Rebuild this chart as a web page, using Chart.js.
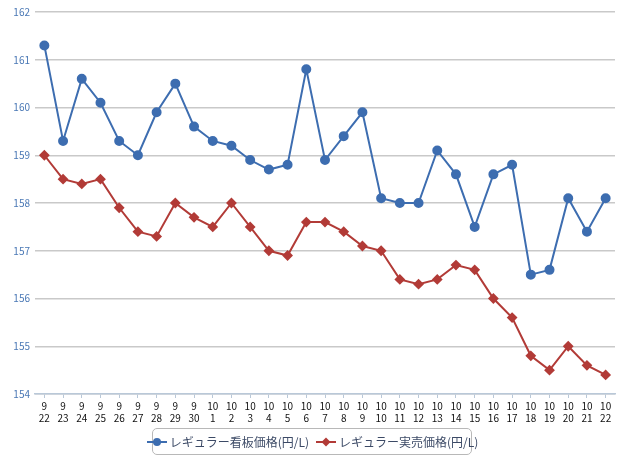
<!DOCTYPE html>
<html><head><meta charset="utf-8">
<script src="https://cdn.jsdelivr.net/npm/chart.js@4/dist/chart.umd.min.js"></script>
<style>
html,body{margin:0;padding:0;background:#fff;}
#wrap{position:relative;width:640px;height:463px;}
#legend{position:absolute;left:152px;top:428px;width:320px;height:27px;border:1px solid #b8b8b8;border-radius:5px;box-sizing:border-box;
 font-family:"Noto Sans CJK JP",sans-serif;font-size:12px;color:#3c4a66;display:flex;align-items:center;justify-content:center;gap:6px;white-space:nowrap;letter-spacing:0;}
.it{display:flex;align-items:center;gap:2px;}
.it canvas{display:block;}
</style></head>
<body><div id="wrap"><canvas id="c" width="640" height="463"></canvas>
<div id="legend"></div></div>
<script>
const months = ['9','9','9','9','9','9','9','9','9','10','10','10','10','10','10','10','10','10','10','10','10','10','10','10','10','10','10','10','10','10','10'];
const days = ['22','23','24','25','26','27','28','29','30','1','2','3','4','5','6','7','8','9','10','11','12','13','14','15','16','17','18','19','20','21','22'];
const seriesNames = ['レギュラー看板価格(円/L)','レギュラー実売価格(円/L)'];
const signboard = [161.3,159.3,160.6,160.1,159.3,159.0,159.9,160.5,159.6,159.3,159.2,158.9,158.7,158.8,160.8,158.9,159.4,159.9,158.1,158.0,158.0,159.1,158.6,157.5,158.6,158.8,156.5,156.6,158.1,157.4,158.1];
const actual = [159.0,158.5,158.4,158.5,157.9,157.4,157.3,158.0,157.7,157.5,158.0,157.5,157.0,156.9,157.6,157.6,157.4,157.1,157.0,156.4,156.3,156.4,156.7,156.6,156.0,155.6,154.8,154.5,155.0,154.6,154.4];
const yMin = 154, yMax = 162;

const labels = months.map((m,i)=>[m, days[i]]);
const blue = '#3d6db0', red = '#b23b37';

const chart = new Chart(document.getElementById('c'), {
  type:'line',
  data:{labels, datasets:[
    {label:seriesNames[0], data:signboard, borderColor:blue, backgroundColor:blue, borderWidth:2, pointStyle:'circle', pointRadius:4, pointHoverRadius:4, tension:0},
    {label:seriesNames[1], data:actual, borderColor:red, backgroundColor:red, borderWidth:2, pointStyle:'rectRot', pointRadius:4, pointHoverRadius:4, tension:0}
  ]},
  options:{
    responsive:false, animation:false,
    layout:{padding:{top:12,right:25,bottom:40,left:0}},
    plugins:{legend:{display:false}, tooltip:{enabled:false}},
    scales:{
      x:{offset:true,
        grid:{display:true, drawOnChartArea:false, color:'#b9c8d8', tickLength:4},
        border:{display:true, color:'#b9c8d8', width:1.5},
        ticks:{color:'#111', font:{family:'"Noto Sans CJK JP", sans-serif', size:10}, maxRotation:0, autoSkip:false, padding:2},
        afterFit:s=>{s.height=29;}
      },
      y:{min:yMin, max:yMax,
        grid:{color:'#c9c9c9', lineWidth:1.5, drawTicks:false},
        border:{display:false},
        ticks:{stepSize:1, color:'#4a78b5', font:{family:'"Noto Sans CJK JP", sans-serif', size:10}, padding:5},
        afterFit:s=>{s.width=35;}
      }
    }
  }
});

// HTML legend
const leg = document.getElementById('legend');
chart.data.datasets.forEach(ds=>{
  const it = document.createElement('div'); it.className='it';
  const cv = document.createElement('canvas'); cv.width=22; cv.height=12;
  const g = cv.getContext('2d');
  g.strokeStyle = ds.borderColor; g.fillStyle = ds.borderColor; g.lineWidth=2;
  g.beginPath(); g.moveTo(1,6); g.lineTo(21,6); g.stroke();
  g.beginPath();
  if (ds.pointStyle==='circle') { g.arc(11,6,4,0,Math.PI*2); }
  else { g.moveTo(11,1.5); g.lineTo(15.5,6); g.lineTo(11,10.5); g.lineTo(6.5,6); g.closePath(); }
  g.fill();
  const sp = document.createElement('span'); sp.textContent = ds.label;
  it.appendChild(cv); it.appendChild(sp); leg.appendChild(it);
});
</script></body></html>
